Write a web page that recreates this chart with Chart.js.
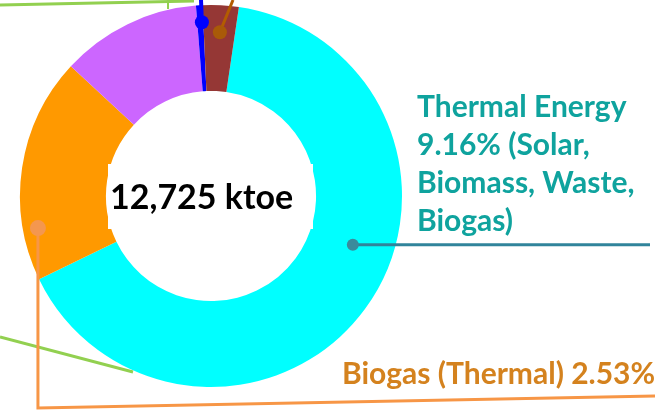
<!DOCTYPE html>
<html>
<head>
<meta charset="utf-8">
<script src="https://cdn.jsdelivr.net/npm/chart.js@4.4.1/dist/chart.umd.min.js"></script>
<style>
  html, body { margin: 0; padding: 0; background: #fff; overflow: hidden; }
  canvas { display: block; }
</style>
</head>
<body>
<canvas id="myChart" width="661" height="413"></canvas>
<script>
// slice shares (%), read clockwise starting at the cyan slice
const categories = ['Thermal Energy', 'Biogas (Thermal)', 'Segment 3', 'Segment 4', 'Segment 5'];
const values = [65.5, 19.06, 11.86, 0.56, 3.03];
const sliceColors = ['#00ffff', '#ff9900', '#cc66ff', '#0000ff', '#953735'];

const centerText = '12,725 ktoe';
const thermalLabel = ['Thermal Energy', '9.16% (Solar,', 'Biomass, Waste,', 'Biogas)'];
const biogasLabel = 'Biogas (Thermal) 2.53%';

const overlay = {
    id: 'overlay',
    afterDatasetsDraw(chart) {
        const ctx = chart.ctx;
        const arc = chart.getDatasetMeta(0).data[0];
        const cx = arc.x, cy = arc.y;

        function polar(deg, r) {
            const a = deg * Math.PI / 180;
            return [cx + r * Math.sin(a), cy - r * Math.cos(a)];
        }
        function line(pts, color, w) {
            ctx.beginPath();
            ctx.moveTo(pts[0][0], pts[0][1]);
            for (let i = 1; i < pts.length; i++) ctx.lineTo(pts[i][0], pts[i][1]);
            ctx.strokeStyle = color;
            ctx.lineWidth = w;
            ctx.stroke();
        }
        function dot(p, r, color) {
            ctx.beginPath();
            ctx.arc(p[0], p[1], r, 0, Math.PI * 2);
            ctx.fillStyle = color;
            ctx.fill();
        }

        ctx.save();
        ctx.lineCap = 'butt';

        // white box behind the total
        ctx.fillStyle = '#ffffff';
        ctx.fillRect(108, 164, 205, 65);
        ctx.fillStyle = '#000000';
        ctx.font = 'bold 34px Lato';
        ctx.textBaseline = 'alphabetic';
        ctx.textAlign = 'left';
        ctx.fillText(centerText, 110, 209);

        // green leaders from labels outside the crop
        line([[0, 5], [194, 1]], '#92d050', 3);
        line([[168, 0], [168, 9]], '#92d050', 2);
        line([[0, 337], [133, 372]], '#92d050', 3);

        // orange leader (Biogas)
        const pOr = polar(259.5, 176);
        line([pOr, [pOr[0], 408], [655, 396]], '#f79646', 3);
        dot(pOr, 8, '#f4974f');

        // teal leader (Thermal)
        const pCy = polar(109, 150);
        line([pCy, [650, pCy[1]]], '#31849b', 3);
        dot(pCy, 6, '#3a8a9c');

        // blue and brown leaders at the top
        const pBl = polar(-3, 174);
        line([pBl, [201, 0]], '#0000ff', 4);
        dot(pBl, 7, '#0000ff');
        const pBr = polar(3.1, 164);
        line([pBr, [233, 0]], '#b35c00', 3);
        dot(pBr, 7, '#a95a08');

        // labels
        ctx.font = 'bold 30px Lato';
        ctx.fillStyle = '#0fa39e';
        thermalLabel.forEach((t, i) => ctx.fillText(t, 417, 117 + i * 38));
        ctx.fillStyle = '#d4821e';
        ctx.fillText(biogasLabel, 342, 384);

        ctx.restore();
    }
};

new Chart(document.getElementById('myChart').getContext('2d'), {
    type: 'doughnut',
    data: {
        labels: categories,
        datasets: [{
            data: values,
            backgroundColor: sliceColors,
            borderWidth: 0
        }]
    },
    options: {
        responsive: false,
        animation: false,
        rotation: 8.4,
        cutout: '55%',
        layout: { padding: { left: 20, top: 5, right: 259, bottom: 26 } },
        plugins: {
            legend: { display: false },
            tooltip: { enabled: false }
        }
    },
    plugins: [overlay]
});
</script>
</body>
</html>
